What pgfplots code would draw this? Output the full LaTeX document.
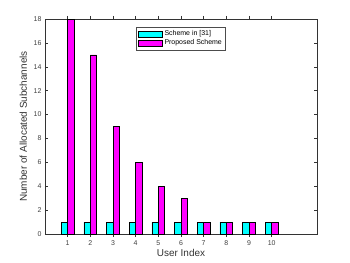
\documentclass[border=0pt]{standalone}
\usepackage{pgfplots}
\pgfplotsset{compat=1.18}
\usepackage{fontspec}
\setmainfont{Liberation Sans}
\definecolor{mcyan}{RGB}{0,255,255}
\definecolor{mmag}{RGB}{255,0,255}
\begin{document}
\begin{tikzpicture}[x=1bp,y=1bp]
\path[use as bounding box] (-45bp,-29bp) rectangle (305bp,234bp);
\begin{axis}[
  at={(0,0)}, anchor=south west,
  scale only axis, width=272bp, height=215bp,
  xmin=0, xmax=12, ymin=0, ymax=18,
  xtick={1,...,10}, ytick={0,2,...,18},
  tick align=inside, tick pos=both,
  major tick length=3bp,
  axis line style={draw=black!80},
  every tick/.style={draw=black!80},
  ticklabel style={font=\fontsize{7}{8}\selectfont, text=black!75},
  /pgf/number format/assume math mode=true,
  xlabel={User Index}, ylabel={Number of Allocated Subchannels},
  label style={font=\fontsize{10}{11}\selectfont, text=black!80},
  xlabel style={yshift=3bp},
  ylabel style={yshift=0bp},
  ybar, bar width=0.28,
  legend style={at={(0.5,0.963)}, anchor=north, font=\fontsize{7}{8}\selectfont,
    draw=black!70, inner sep=1.5bp, row sep=-1.5bp, cells={anchor=west}},
  legend image code/.code={\draw[#1] (0bp,-3bp) rectangle (24bp,3bp);},
]
\addplot[fill=mcyan, draw=black, bar shift=-0.14] coordinates {(1,1) (2,1) (3,1) (4,1) (5,1) (6,1) (7,1) (8,1) (9,1) (10,1)};
\addplot[fill=mmag, draw=black, bar shift=0.14] coordinates {(1,18) (2,15) (3,9) (4,6) (5,4) (6,3) (7,1) (8,1) (9,1) (10,1)};
\legend{Scheme in [31], Proposed Scheme}
\end{axis}
\end{tikzpicture}
\end{document}
